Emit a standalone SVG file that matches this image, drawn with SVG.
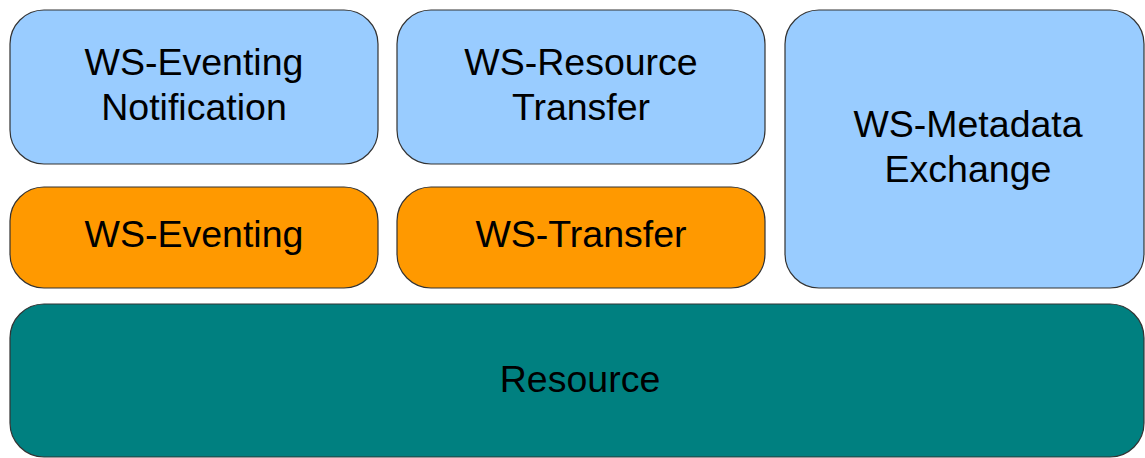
<svg xmlns="http://www.w3.org/2000/svg" width="1145" height="458" viewBox="0 0 1145 458">
  <style>
    .box { stroke: #333333; stroke-width: 1.2; }
    .blue { fill: #99ccff; }
    .orange { fill: #ff9900; }
    .teal { fill: #008080; }
    .label { font-family: "Liberation Sans", Arial, sans-serif; font-size: 37.5px; fill: #000000; text-anchor: middle; }
  </style>
  <rect width="1145" height="458" fill="#ffffff"/>

  <g id="ws-eventing-notification">
    <rect class="box blue" x="10" y="10" width="368" height="154" rx="34" ry="34"/>
    <text class="label" x="194" y="75">WS-Eventing</text>
    <text class="label" x="194" y="120">Notification</text>
  </g>

  <g id="ws-resource-transfer">
    <rect class="box blue" x="397" y="10" width="368" height="154" rx="34" ry="34"/>
    <text class="label" x="581" y="75">WS-Resource</text>
    <text class="label" x="581" y="120">Transfer</text>
  </g>

  <g id="ws-metadata-exchange">
    <rect class="box blue" x="785" y="10" width="359" height="278" rx="34" ry="34"/>
    <text class="label" x="968" y="137">WS-Metadata</text>
    <text class="label" x="968" y="182">Exchange</text>
  </g>

  <g id="ws-eventing">
    <rect class="box orange" x="10" y="187" width="368" height="101" rx="34" ry="34"/>
    <text class="label" x="194" y="247">WS-Eventing</text>
  </g>

  <g id="ws-transfer">
    <rect class="box orange" x="397" y="187" width="368" height="101" rx="34" ry="34"/>
    <text class="label" x="581" y="247">WS-Transfer</text>
  </g>

  <g id="resource">
    <rect class="box teal" x="10" y="304" width="1134" height="153" rx="34" ry="34"/>
    <text class="label" x="580" y="392">Resource</text>
  </g>

  <g id="connectors"/>
</svg>
